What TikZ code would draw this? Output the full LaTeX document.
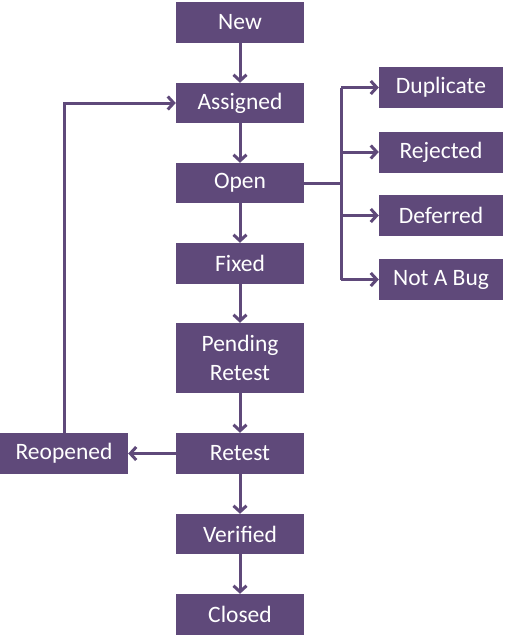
\documentclass[tikz,border=0pt]{standalone}
\usepackage{fontspec}
\setmainfont{Carlito}
\usetikzlibrary{arrows.meta}
\definecolor{bugpurple}{HTML}{5F497A}
\tikzset{
  state/.style={rectangle, fill=bugpurple, text=white, inner sep=0pt,
    minimum width=128pt, minimum height=41pt, align=center,
    font=\fontsize{23.5}{29}\selectfont},
  side/.style={state, minimum width=124pt},
  flow/.style={draw=bugpurple, line width=3pt,
    -{Straight Barb[length=6pt,width=13pt,line width=3pt]}},
  plain/.style={draw=bugpurple, line width=3pt}
}
\begin{document}
\begin{tikzpicture}[x=1pt,y=-1pt]
\useasboundingbox (0,0) rectangle (505,640);
\node[state] (new) at (240,22.5) {New};
\node[state,minimum height=40pt] (assigned) at (240,103) {Assigned};
\node[state,minimum height=40pt] (open) at (240,183) {Open};
\node[state] (fixed) at (240,263.5) {Fixed};
\node[state,minimum height=70pt] (pending) at (240,358) {Pending\\Retest};
\node[state] (retest) at (240,453.5) {Retest};
\node[state,minimum height=40pt] (verified) at (240,534) {Verified};
\node[state] (closed) at (240,614.5) {Closed};
\node[state] (reopened) at (64,453.5) {Reopened};
\node[side] (dup) at (441,87.5) {Duplicate};
\node[side] (rej) at (441,152) {Rejected};
\node[side] (def) at (441,215.5) {Deferred};
\node[side] (nab) at (441,279.5) {Not A Bug};
\coordinate (branch) at (341,183);
\draw[flow] (new) -- (assigned);
\draw[flow] (assigned) -- (open);
\draw[flow] (open) -- (fixed);
\draw[flow] (fixed) -- (pending);
\draw[flow] (pending) -- (retest);
\draw[flow] (retest) -- (verified);
\draw[flow] (verified) -- (closed);
\draw[flow] (retest) -- (reopened);
\draw[flow] (reopened.north) |- (assigned.west);
\draw[plain] (open.east) -- (branch);
\draw[plain] (branch |- dup.west) -- (branch |- nab.west);
\draw[flow] (branch |- dup.west) -- (dup.west);
\draw[flow] (branch |- rej.west) -- (rej.west);
\draw[flow] (branch |- def.west) -- (def.west);
\draw[flow] (branch |- nab.west) -- (nab.west);
\end{tikzpicture}
\end{document}
